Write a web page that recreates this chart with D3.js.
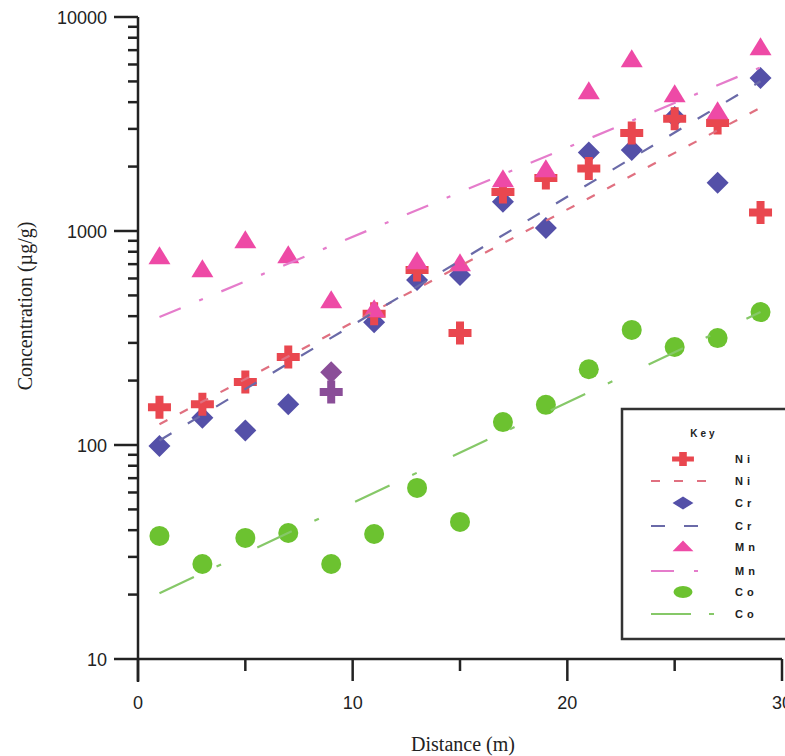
<!DOCTYPE html>
<html><head><meta charset="utf-8">
<script src="https://cdn.jsdelivr.net/npm/d3@7"></script>
<style>body{margin:0;background:#fff}svg{display:block}</style>
</head><body>
<svg id="c" width="785" height="756"></svg>
<script>
// ---- data ----
const distance = [1,3,5,7,9,11,13,15,17,19,21,23,25,27,29];
const ni = [150,155,197,258,177,410,657,334,1520,1770,1960,2870,3350,3200,1220];
const cr = [99,134,117,155,219,375,590,623,1370,1033,2330,2390,3410,1680,5190];
const mn = [756,657,898,764,471,427,716,700,1730,1928,4460,6300,4320,3600,7160];
const co = [37.6,27.8,36.8,38.8,27.8,38.4,63,43.7,128,154,226,345,287,316,418];
// trend lines (end points)
const niFit = [[1,125],[29,3770]];
const crFit = [[1,105],[29,5010]];
const mnFit = [[1,396],[29,5820]];
const coFit = [[1,20.3],[29,418]];
const xTicks = [0,10,20,30];
const xMinor = [5,15,25];
const yTicks = [10,100,1000,10000];
const legendLabels = ["Ni","Ni","Cr","Cr","Mn","Mn","Co","Co"];
const highlightIdx = 4; // points drawn in purple at distance 9 (Ni, Cr)

// ---- styles ----
const C = {ni:"#e9474f", cr:"#5450a8", mn:"#ee4aa6", co:"#6cc230", hl:"#8a4e98",
  niLine:"#e07080", crLine:"#6a6aa8", mnLine:"#e57ccb", coLine:"#86c868", axis:"#222"};

const svg = d3.select("#c");
const x = d3.scaleLinear().domain([0,30]).range([138,782]);
const y = d3.scaleLog().domain([10,10000]).range([659,17]);

const shapes = {
  cross: (s)=>{const a=11.5*s,b=4*s;return `M${-b},${-a}H${b}V${-b}H${a}V${b}H${b}V${a}H${-b}V${b}H${-a}V${-b}H${-b}Z`;},
  diamond: (s)=>{const a=11*s;return `M0,${-a}L${a},0L0,${a}L${-a},0Z`;},
  triangle: (s)=>{const w=11*s,h=18*s;return `M0,${-h*0.6}L${w},${h*0.4}L${-w},${h*0.4}Z`;},
  circle: (s)=>{const r=10*s;return `M${r},0A${r},${r} 0 1,1 ${-r},0A${r},${r} 0 1,1 ${r},0Z`;}
};

// ---- axes ----
const ax = svg.append("g").attr("stroke",C.axis).attr("stroke-width",2.5).attr("fill","none");
ax.append("line").attr("x1",x(0)).attr("x2",x(0)).attr("y1",y(10000)).attr("y2",682);
ax.append("line").attr("x1",x(0)).attr("x2",x(30)).attr("y1",y(10)).attr("y2",y(10));
// y ticks
yTicks.forEach(t=>ax.append("line").attr("x1",x(0)-24).attr("x2",x(0)).attr("y1",y(t)).attr("y2",y(t)));
[10,100,1000].forEach(d=>{for(let k=2;k<=9;k++){const v=d*k;ax.append("line").attr("x1",x(0)-10).attr("x2",x(0)).attr("y1",y(v)).attr("y2",y(v));}});
xTicks.forEach(t=>ax.append("line").attr("x1",x(t)).attr("x2",x(t)).attr("y1",y(10)).attr("y2",y(10)+22));
xMinor.forEach(t=>ax.append("line").attr("x1",x(t)).attr("x2",x(t)).attr("y1",y(10)).attr("y2",y(10)+12));

const lab = svg.append("g").attr("font-family","'Liberation Sans',Arial,sans-serif").attr("font-size",18).attr("fill","#222");
yTicks.forEach(t=>lab.append("text").attr("x",107).attr("y",y(t)+6.5).attr("text-anchor","end").text(t));
xTicks.forEach(t=>lab.append("text").attr("x",x(t)).attr("y",709).attr("text-anchor","middle").text(t));

svg.append("text").attr("x",463).attr("y",751).attr("text-anchor","middle")
  .attr("font-family","'Liberation Serif','Times New Roman',serif").attr("font-size",20).attr("fill","#222").text("Distance (m)");
svg.append("text").attr("transform","translate(32,306) rotate(-90)").attr("text-anchor","middle")
  .attr("font-family","'Liberation Serif','Times New Roman',serif").attr("font-size",20).attr("fill","#222").text("Concentration (µg/g)");

// ---- markers ----
function pts(vals, shape, color){
  svg.append("g").selectAll("path").data(distance.map((d,i)=>({d,v:vals[i],i}))).join("path")
    .attr("d",shapes[shape](1))
    .attr("transform",p=>`translate(${x(p.d)},${y(p.v)})`)
    .attr("fill",p=>(p.i===highlightIdx && (vals===ni||vals===cr))?C.hl:color);
}
pts(cr,"diamond",C.cr);
pts(ni,"cross",C.ni);
pts(mn,"triangle",C.mn);
pts(co,"circle",C.co);

// ---- trend lines ----
const lineGen = d3.line().x(p=>x(p[0])).y(p=>y(p[1]));
function fit(data,color,dash,w){
  svg.append("path").attr("d",lineGen(data)).attr("fill","none").attr("stroke",color)
    .attr("stroke-width",w||2.2).attr("stroke-dasharray",dash);
}
fit(niFit,C.niLine,"9,14");
fit(crFit,C.crLine,"14,19");
fit(mnFit,C.mnLine,"23,20,4,20");
fit(coFit,C.coLine,"38,25,5,40");

// ---- legend ----
const lg = svg.append("g");
lg.append("rect").attr("x",622).attr("y",409).attr("width",200).attr("height",230)
  .attr("fill","#fff").attr("stroke","#333").attr("stroke-width",2.5);
lg.append("text").attr("x",704).attr("y",437).attr("text-anchor","middle").attr("font-family","'Liberation Sans',Arial,sans-serif")
  .attr("font-weight","bold").attr("font-size",10).attr("letter-spacing",3).attr("fill","#222").text("Key");
const rowY = [459,481,503,526,547,571,592,614];
const items = [
  {type:"m",shape:"cross",color:C.ni},{type:"l",color:C.niLine,dash:"9,14",x1:651,x2:710},
  {type:"m",shape:"diamond",color:C.cr},{type:"l",color:C.crLine,dash:"14,19",x1:651,x2:700},
  {type:"m",shape:"triangle",color:C.mn},{type:"l",color:C.mnLine,dash:"23,20,4,20",x1:651,x2:700},
  {type:"m",shape:"circle",color:C.co},{type:"l",color:C.coLine,dash:"40,18,5,20",x1:651,x2:716}
];
items.forEach((it,i)=>{
  if(it.type==="m"){
    lg.append("path").attr("d",shapes[it.shape](1)).attr("fill",it.color)
      .attr("transform",`translate(683,${rowY[i]}) scale(0.95,0.6)`);
  } else {
    lg.append("line").attr("x1",it.x1).attr("x2",it.x2).attr("y1",rowY[i]).attr("y2",rowY[i])
      .attr("stroke",it.color).attr("stroke-width",2).attr("stroke-dasharray",it.dash);
  }
  lg.append("text").attr("x",735).attr("y",rowY[i]+4).attr("font-family","'Liberation Sans',Arial,sans-serif")
    .attr("font-weight","bold").attr("font-size",11).attr("letter-spacing",4).attr("fill","#222").text(legendLabels[i]);
});
</script>
</body></html>
